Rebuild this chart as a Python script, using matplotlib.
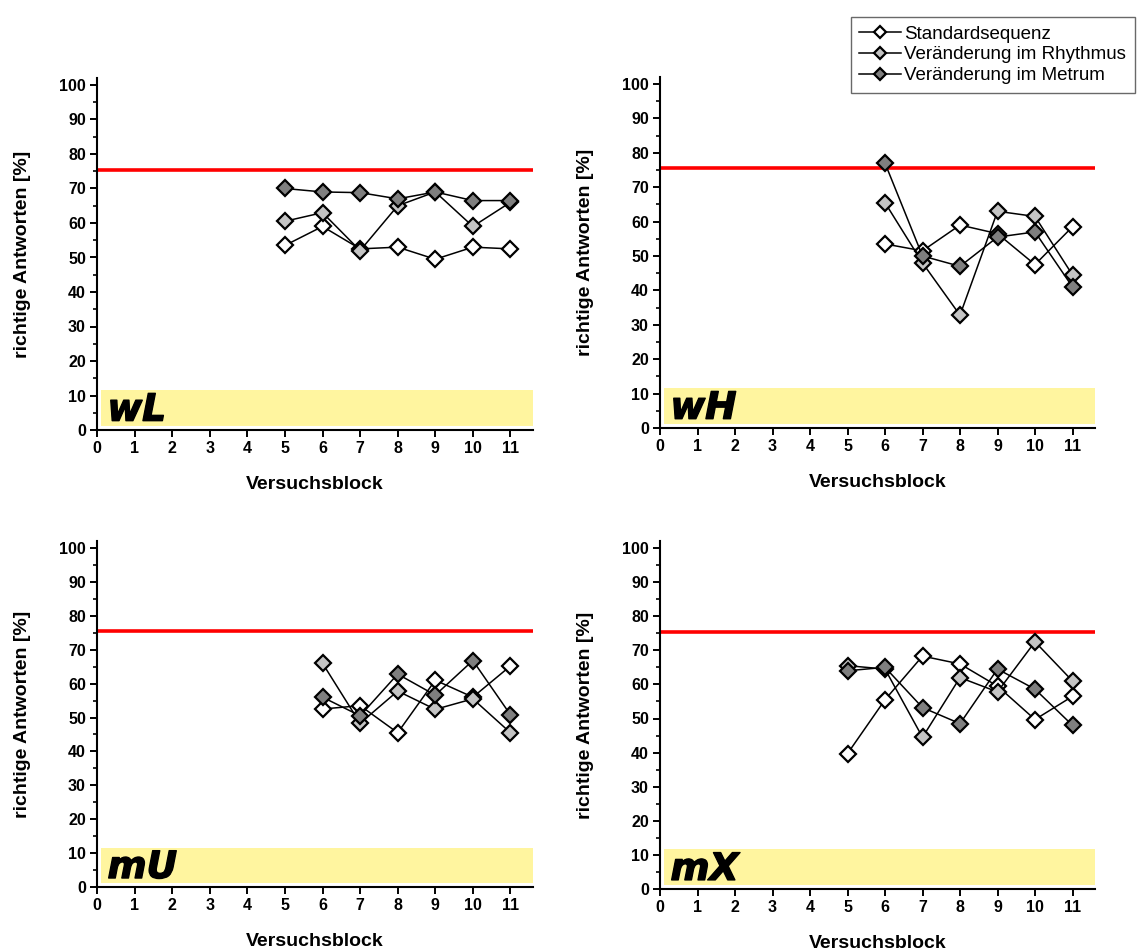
import matplotlib
matplotlib.use("Agg")
import matplotlib.pyplot as plt
import matplotlib.patheffects as pe
from matplotlib.ticker import MultipleLocator

plt.rcParams['font.family'] = ['Liberation Sans', 'DejaVu Sans']

# --- data -------------------------------------------------------------
series_names = ["Standardsequenz", "Veränderung im Rhythmus", "Veränderung im Metrum"]
panel_labels = ["wL", "wH", "mU", "mX"]

wL_blocks = [5, 6, 7, 8, 9, 10, 11]
wL_standard = [53.5, 59, 52.5, 53, 49.5, 53, 52.5]
wL_rhythmus = [60.5, 63, 52, 65, 69, 59, 66]
wL_metrum = [70, 69, 68.8, 67, 69, 66.5, 66.5]

wH_blocks = [6, 7, 8, 9, 10, 11]
wH_standard = [53.5, 51.5, 59, 56.5, 47.5, 58.5]
wH_rhythmus = [65.5, 48, 32.8, 63, 61.5, 44.5]
wH_metrum = [77, 50, 47, 55.5, 57, 41]

mU_blocks = [6, 7, 8, 9, 10, 11]
mU_standard = [52.5, 53.5, 45.5, 61, 56, 65.2]
mU_rhythmus = [66, 48.3, 57.8, 52.4, 55.5, 45.5]
mU_metrum = [56, 50.5, 62.8, 56.6, 66.8, 50.8]

mX_blocks = [5, 6, 7, 8, 9, 10, 11]
mX_standard = [39.7, 55.5, 68.3, 66, 59.5, 49.7, 56.5]
mX_rhythmus = [65.5, 64.5, 44.5, 62, 57.8, 72.5, 61]
mX_metrum = [64, 65, 53.2, 48.5, 64.5, 58.6, 48]

criterion = 75.5          # red reference line
band_y = (1.2, 11.6)      # yellow label band
band_x = (0.1, 11.6)

x_ticks = list(range(0, 12))
y_ticks = list(range(0, 101, 10))

panels = [
    (wL_blocks, [wL_standard, wL_rhythmus, wL_metrum]),
    (wH_blocks, [wH_standard, wH_rhythmus, wH_metrum]),
    (mU_blocks, [mU_standard, mU_rhythmus, mU_metrum]),
    (mX_blocks, [mX_standard, mX_rhythmus, mX_metrum]),
]

# --- styling ----------------------------------------------------------
face_colors = ["#ffffff", "#c4c4c4", "#7f7f7f"]
W, H = 1143, 952
# axes rectangles in pixels: (left, x-range right, y-zero, px per y unit)
rects_px = [
    (97, 533, 430, 3.45),
    (660, 1095, 428, 3.44),
    (97, 533, 887, 3.39),
    (660, 1095, 889, 3.41),
]
YMAX = 102

fig = plt.figure(figsize=(W / 100, H / 100), dpi=100)

handles = None
for (blocks, ys), label, (l, r, y0, ppu) in zip(panels, panel_labels, rects_px):
    top = y0 - YMAX * ppu
    ax = fig.add_axes([l / W, 1 - y0 / H, (r - l) / W, (y0 - top) / H])
    ax.set_xlim(0, 11.6)
    ax.set_ylim(0, YMAX)

    ax.fill_between(band_x, band_y[0], band_y[1], color="#fff59f", lw=0, zorder=0)
    ax.text(0.28, 5.6, label, fontsize=27, fontweight="bold", style="italic",
            family="DejaVu Sans", va="center", ha="left", color="black", zorder=1,
            path_effects=[pe.withStroke(linewidth=1.0, foreground="black")])
    ax.axhline(criterion, color="#ff0000", lw=2.6, zorder=1)

    hs = []
    for vals, fc, name in zip(ys, face_colors, series_names):
        h, = ax.plot(blocks, vals, color="black", lw=1.1, marker="D", ms=8.5,
                     mfc=fc, mec="black", mew=1.6, label=name, zorder=3,
                     clip_on=False)
        hs.append(h)
    handles = hs

    for s in ("top", "right"):
        ax.spines[s].set_visible(False)
    for s in ("left", "bottom"):
        ax.spines[s].set_linewidth(1.5)
    ax.set_xticks(x_ticks)
    ax.set_yticks(y_ticks)
    ax.yaxis.set_minor_locator(MultipleLocator(5))
    ax.tick_params(axis="both", which="major", direction="out", length=5,
                   width=1.4, labelsize=11.5, pad=3)
    ax.tick_params(axis="y", which="minor", direction="out", length=3, width=1.2)
    for t in ax.get_xticklabels() + ax.get_yticklabels():
        t.set_fontweight("bold")
    ax.set_xlabel("Versuchsblock", fontsize=14, fontweight="bold", labelpad=14)
    ax.set_ylabel("richtige Antworten [%]", fontsize=14, fontweight="bold", labelpad=20)

leg = fig.legend(handles, series_names, loc="upper left",
                 bbox_to_anchor=(851 / W, 1 - 17 / H), borderaxespad=0,
                 fontsize=13.5, frameon=True, fancybox=False, handlelength=2.2,
                 handletextpad=0.2, labelspacing=0.2, borderpad=0.45,
                 markerscale=0.75)
leg.get_frame().set_edgecolor("#444444")
leg.get_frame().set_linewidth(1.0)

fig.savefig("out.png", dpi=100)
